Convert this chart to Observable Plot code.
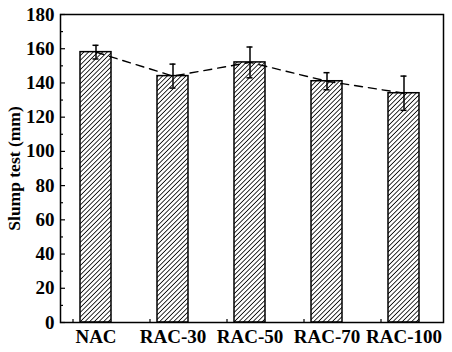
<!DOCTYPE html>
<html>
<head>
<meta charset="utf-8">
<script src="https://cdn.jsdelivr.net/npm/d3@7"></script>
<script src="https://cdn.jsdelivr.net/npm/@observablehq/plot@0.6"></script>
<style>
  html, body { margin: 0; padding: 0; background: #fff; }
  #chart { width: 452px; height: 352px; }
</style>
</head>
<body>
<div id="chart"></div>
<script>
const categories = ["NAC", "RAC-30", "RAC-50", "RAC-70", "RAC-100"];
const slump = [158, 144, 152, 141, 134];
const errors = [4, 7, 9, 5, 10];
const yMajorTicks = [0, 20, 40, 60, 80, 100, 120, 140, 160, 180];
const yMinorTicks = [10, 30, 50, 70, 90, 110, 130, 150, 170];

const rows = categories.map((c, i) => ({cat: c, v: slump[i], lo: slump[i] - errors[i], hi: slump[i] + errors[i]}));

const font = "'Liberation Serif', 'Times New Roman', serif";
const W = 452, H = 352, mL = 60, mR = 9, mT = 14, mB = 30;
const plotW = W - mL - mR, plotH = H - mT - mB;

const chart = Plot.plot({
  width: W,
  height: H,
  marginLeft: mL,
  marginRight: mR,
  marginTop: mT,
  marginBottom: mB,
  style: {fontFamily: font, fontWeight: "bold", fontSize: "19px", color: "#000", background: "#fff"},
  x: {domain: categories, paddingInner: 0.6, paddingOuter: 0.27, align: 0.45, label: null},
  y: {domain: [0, 180], label: null},
  marks: [
    Plot.barY(rows, {x: "cat", y: "v", fill: "url(#hatch)", stroke: "#000", strokeWidth: 1.5}),
    Plot.ruleX(rows, {x: "cat", y1: "lo", y2: "hi", stroke: "#000", strokeWidth: 1.5}),
    Plot.tickY(rows, {x: "cat", y: "hi", stroke: "#000", strokeWidth: 1.5, insetLeft: 12.5, insetRight: 12.5}),
    Plot.tickY(rows, {x: "cat", y: "lo", stroke: "#000", strokeWidth: 1.5, insetLeft: 12.5, insetRight: 12.5}),
    Plot.lineY(rows, {x: "cat", y: "v", stroke: "#000", strokeWidth: 1.4, strokeDasharray: "8,6"}),
    Plot.tickY(yMajorTicks, {y: d => d, stroke: "#000", strokeWidth: 1.2, insetRight: plotW - 5}),
    Plot.tickY(yMinorTicks, {y: d => d, stroke: "#000", strokeWidth: 1.2, insetRight: plotW - 3}),
    Plot.tickX(categories, {x: d => d, dx: -23, stroke: "#000", strokeWidth: 1.2, insetTop: plotH - 3}),
    Plot.axisY({ticks: yMajorTicks, tickSize: 0, tickPadding: 6, fontSize: 19, fontWeight: "bold", label: null}),
    Plot.axisY({ticks: [], tickSize: 0, fontSize: 17.5, fontWeight: "bold",
      label: "Slump test (mm)", labelAnchor: "center", labelArrow: "none", labelOffset: 53}),
    Plot.axisX({tickSize: 0, tickPadding: 7, fontSize: 19, fontWeight: "bold", label: null}),
    Plot.frame({stroke: "#000", strokeWidth: 1.5})
  ]
});

const defs = document.createElementNS("http://www.w3.org/2000/svg", "defs");
defs.innerHTML = `<pattern id="hatch" patternUnits="userSpaceOnUse" width="3.3" height="3.3" patternTransform="rotate(45)">
  <rect width="3.3" height="3.3" fill="#fff"/>
  <line x1="0" y1="0" x2="0" y2="3.3" stroke="#000" stroke-width="1.6"/>
</pattern>`;
chart.insertBefore(defs, chart.firstChild);
document.getElementById("chart").appendChild(chart);
</script>
</body>
</html>
